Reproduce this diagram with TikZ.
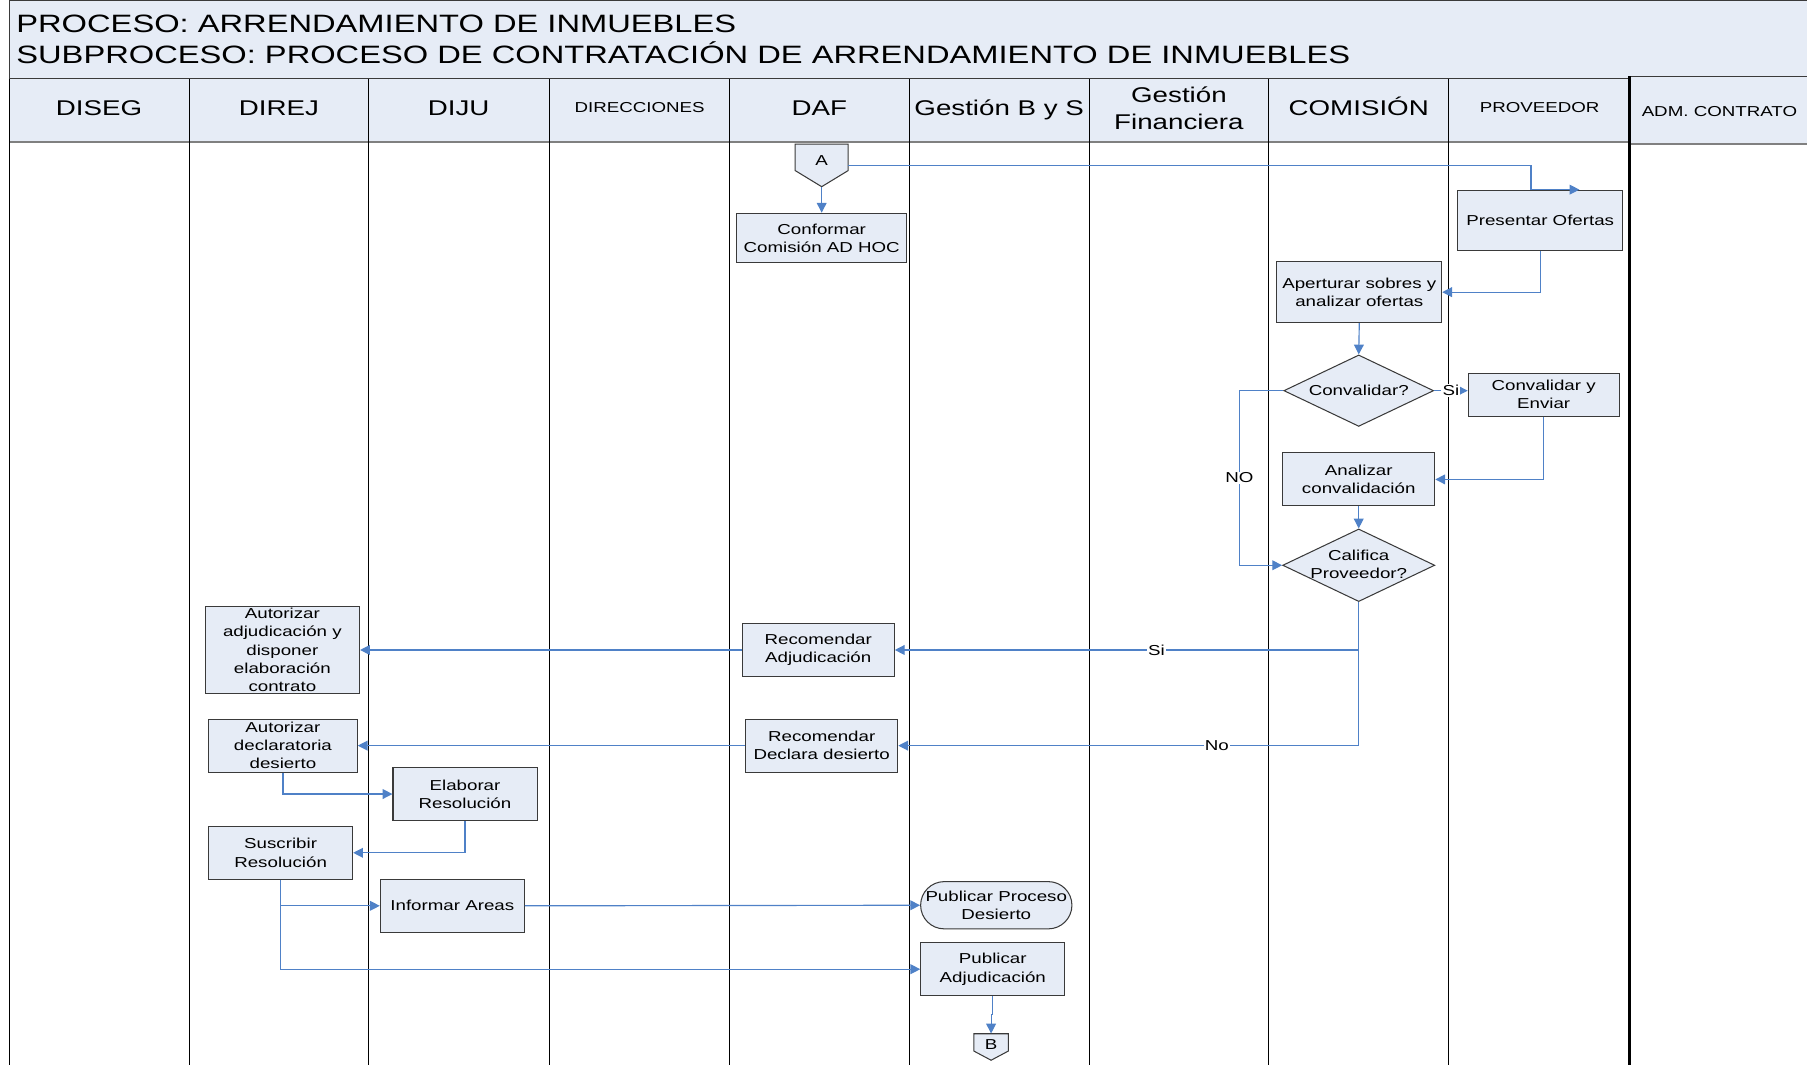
\documentclass[tikz,border=0pt]{standalone}
\usepackage{fontspec}
\setmainfont{Liberation Sans}[FakeStretch=1.3]
\usetikzlibrary{arrows.meta,shapes.geometric,shapes.misc,calc}
\definecolor{fillblue}{HTML}{E6ECF6}
\definecolor{flowblue}{HTML}{4F81C7}
\definecolor{edgegray}{HTML}{3A3A3A}
\definecolor{rulegray}{HTML}{808080}

\begin{document}
\begin{tikzpicture}[x=1pt,y=-1pt,
  box/.style={draw=edgegray, line width=0.9pt, fill=fillblue, inner sep=0pt,
    align=center, font=\fontsize{12.5}{15.75}\selectfont},
  dia/.style={diamond, draw=edgegray, line width=0.9pt, fill=fillblue, inner sep=0pt},
  txt/.style={inner sep=0pt, align=center, font=\fontsize{12.5}{15.75}\selectfont},
  flow/.style={draw=flowblue, line width=1pt, -{Triangle[length=8.5pt,width=8.5pt]}},
  lbl/.style={fill=white, inner sep=1pt, font=\fontsize{12.5}{15}\selectfont},
  lane/.style={draw=black, line width=0.8pt},
  hbig/.style={inner sep=0pt, align=center, font=\fontsize{18.5}{23}\selectfont},
  hsmall/.style={inner sep=0pt, font=\fontsize{12.5}{14}\selectfont},
  ttl/.style={inner sep=0pt, anchor=base west, font=\fontsize{21.8}{27}\selectfont},
  offpage/.style={draw=edgegray, line width=0.9pt, fill=fillblue}
]
\useasboundingbox (0,0) rectangle (1568,924);

% title band
\fill[fillblue] (8.5,0.5) rectangle (1575,68.5);
\draw[edgegray, line width=0.9pt] (8.5,68.5) -- (8.5,0.5) -- (1575,0.5);
\node[ttl] (title1) at (14,28) {PROCESO: ARRENDAMIENTO DE INMUEBLES};
\node[ttl] (title2) at (14,55) {SUBPROCESO: PROCESO DE CONTRATACIÓN DE ARRENDAMIENTO DE INMUEBLES};

% lane header row
\fill[fillblue] (8.5,68.5) rectangle (1414,123);
\draw[edgegray, line width=0.9pt] (8.5,68.5) -- (1414,68.5);
\draw[rulegray, line width=2pt] (8.5,123) -- (1414,123);
\fill[fillblue] (1414,66) rectangle (1575,125);
\draw[edgegray, line width=0.9pt] (1414,66) -- (1575,66);
\draw[rulegray, line width=1.5pt] (1414,125) -- (1575,125);

% lane dividers
\foreach \lx in {8.5,164,320,477,633,789,945,1101,1257}
  \draw[lane] (\lx,68.5) -- (\lx,924);
\draw[black, line width=2pt] (1414,66) -- (1414,924);

% lane names
\node[hbig, anchor=base] (hdiseg) at (86,100) {DISEG};
\node[hbig, anchor=base] (hdirej) at (242,100) {DIREJ};
\node[hbig, anchor=base] (hdiju) at (398,100) {DIJU};
\node[hsmall, anchor=base] (hdir) at (555,97.5) {DIRECCIONES};
\node[hbig, anchor=base] (hdaf) at (711,100) {DAF};
\node[hbig, anchor=base] (hgbs) at (867,100) {Gestión B y S};
\node[hbig, anchor=base] (hgf1) at (1023,89) {Gestión};
\node[hbig, anchor=base] (hgf2) at (1023,112) {Financiera};
\node[hbig, anchor=base] (hcom) at (1179,100) {COMISIÓN};
\node[hsmall, anchor=base] (hprov) at (1336,97.5) {PROVEEDOR};
\node[hsmall, anchor=base] (hadm) at (1492,101) {ADM. CONTRATO};

% off-page connector A
\draw[offpage] (690,125) -- (736,125) -- (736,148) -- (713,162) -- (690,148) -- cycle;
\node[inner sep=0pt, minimum width=46pt, minimum height=37pt] (A) at (713,143.5) {};
\node[txt] (Alabel) at (713,139) {A};

% process steps
\node[box, minimum width=148pt, minimum height=43pt] (conf) at (713,206.5) {Conformar\\Comisión AD HOC};
\node[box, minimum width=143pt, minimum height=52pt] (pres) at (1336.5,191) {Presentar Ofertas};
\node[box, minimum width=143pt, minimum height=53pt] (aper) at (1179.5,253.5) {Aperturar sobres y\\analizar ofertas};
\node[dia, minimum width=130pt, minimum height=62pt] (conv) at (1179,339) {};
\node[txt] (convlabel) at (1179,339) {Convalidar?};
\node[box, minimum width=131pt, minimum height=37pt] (cve) at (1339.5,342.5) {Convalidar y\\Enviar};
\node[box, minimum width=132pt, minimum height=46pt] (anal) at (1179,416) {Analizar\\convalidación};
\node[dia, minimum width=132pt, minimum height=63pt] (calif) at (1179,490.5) {};
\node[txt] (califlabel) at (1179,490) {Califica\\Proveedor?};
\node[box, minimum width=132pt, minimum height=46pt] (recadj) at (710,564) {Recomendar\\Adjudicación};
\node[box, minimum width=134pt, minimum height=76pt] (autadj) at (245,564) {Autorizar\\adjudicación y\\disponer\\elaboración\\contrato};
\node[box, minimum width=132pt, minimum height=46pt] (recdes) at (713,647) {Recomendar\\Declara desierto};
\node[box, minimum width=129pt, minimum height=46pt] (autdes) at (245.5,647) {Autorizar\\declaratoria\\desierto};
\node[box, minimum width=125pt, minimum height=46pt] (elab) at (403.5,689) {Elaborar\\Resolución};
\node[box, minimum width=125pt, minimum height=46pt] (susc) at (243.5,740) {Suscribir\\Resolución};
\node[box, minimum width=125pt, minimum height=46pt] (inf) at (392.5,786) {Informar Areas};
\node[box, rounded rectangle, minimum width=131pt, minimum height=41pt] (pubdes) at (864.5,785.5) {Publicar Proceso\\Desierto};
\node[box, minimum width=125pt, minimum height=46pt] (pubadj) at (861.5,841) {Publicar\\Adjudicación};

% off-page connector B
\draw[offpage] (845,897) -- (875,897) -- (875,912) -- (860,920) -- (845,912) -- cycle;
\node[inner sep=0pt, minimum width=30pt, minimum height=23pt] (B) at (860,908.5) {};
\node[txt] (Blabel) at (860,906) {B};

% connectors
\draw[flow] (A.east) -| ([xshift=-8pt]pres.north) -- ([xshift=34pt]pres.north);
\draw[flow] (A.south) -- (conf.north);
\draw[flow] (pres.south) |- (aper.east);
\draw[flow] (aper.south) -- (conv.north);
\draw[flow] (conv.east) -- node[lbl] {Si} (conv.east -| cve.west);
\draw[flow] (cve.south) |- (anal.east);
\draw[flow] (conv.west) -| ([xshift=-37pt]calif.west) node[lbl, pos=0.75] {NO} -- (calif.west);
\draw[flow] (anal.south) -- (calif.north);
\draw[flow] (calif.south) |- node[lbl, pos=0.718] {Si} (recadj.east);
\draw[flow] (calif.south) |- node[lbl, pos=0.654] {No} (recdes.east);
\draw[flow] (recadj.west) -- (autadj.east);
\draw[flow] (recdes.west) -- (autdes.east);
\draw[flow] (autdes.south) |- (elab.west);
\draw[flow] (elab.south) |- (susc.east);
\draw[flow] (susc.south) |- (inf.west);
\draw[flow] (susc.south) |- (pubadj.west);
\draw[flow] (inf.east) -- (pubdes.west);
\draw[flow] (pubadj.south) -- ++(0,16) -| (B.north);
\end{tikzpicture}
\end{document}
